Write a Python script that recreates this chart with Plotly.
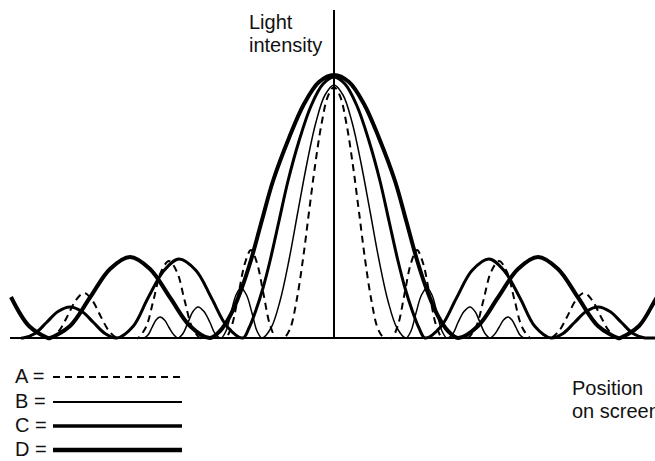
import plotly.graph_objects as go

# ---- data: right-half profiles (offset from centre, intensity), mirrored for left half ----
a_offset = [0, 6, 12.5, 19, 25, 31, 37.5, 44, 50, 52, 56,
            58, 64, 70.5, 77, 83, 89, 95.5, 102, 108, 110, 132,
            134, 142, 149.5, 157, 165, 173, 180.5, 188, 196, 198, 215,
            217, 225, 233.5, 242, 250, 258, 266.5, 275, 283, 285, 340]
a_intensity = [251, 242, 214, 172, 126, 79, 37, 9, 0, 0, 0,
               0, 13, 44, 75, 88, 75, 44, 13, 0, 0, 0,
               0, 11, 38, 66, 77, 66, 38, 11, 0, 0, 0,
               0, 7, 22, 38, 45, 38, 22, 7, 0, 0, 0]

b_offset = [0, 9, 18, 27, 36, 45, 54, 63,
            72, 77, 82, 87.5, 93, 98, 103, 108,
            113, 119, 124, 130, 136, 141, 146, 151,
            156, 160, 165, 169.5, 174, 178, 182, 186, 190, 192, 340]
b_intensity = [253, 243, 216, 175, 127, 78, 37, 10,
               0, 7, 25, 43, 50, 43, 25, 7,
               0, 4.5, 15.5, 26.5, 31, 26.5, 15.5, 4.5,
               0, 3, 10.5, 18, 21, 18, 10.5, 3, 0, 0, 0]

c_offset = [0, 11, 23, 35, 46, 55, 64, 71, 78, 85,
            91, 107, 122.5, 138, 155, 170, 186, 201,
            217, 229, 240.5, 252, 264, 276, 287.5, 299, 311, 313, 340]
c_intensity = [261, 254, 232, 197, 157, 117, 77, 50, 28, 10,
               0, 11.5, 40, 67.5, 79, 67.5, 40, 11.5,
               0, 4.5, 15.5, 26.5, 31, 26.5, 15.5, 4.5, 0, 0, 0]

d_offset = [0, 15, 30, 45, 61, 72, 83, 94, 104, 114,
            124, 144, 164, 184, 204, 224, 244, 264, 284,
            286, 305, 323, 342, 361]
d_intensity = [263, 256, 234, 200, 157, 118, 78, 45, 22, 7,
               0, 12, 40.5, 69, 81, 69, 40.5, 12, 0,
               0, 12, 41, 70, 82]

# the drawing starts at this offset on the left-hand side
left_limit = 323

legend_labels = ["A =", "B =", "C =", "D ="]
axis_title_y = ["Light", "intensity"]
axis_title_x = ["Position", "on screen"]


def mirror(off, val, limit):
    left = [(-o, v) for o, v in zip(off[1:], val[1:]) if o <= limit]
    left.reverse()
    xs = [p[0] for p in left] + list(off)
    ys = [p[1] for p in left] + list(val)
    return xs, ys


styles = {
    "A": dict(width=2, dash="7px,5px"),
    "B": dict(width=1.5, dash="solid"),
    "C": dict(width=3, dash="solid"),
    "D": dict(width=4, dash="solid"),
}

fig = go.Figure()
for name, off, val in [("D", d_offset, d_intensity), ("C", c_offset, c_intensity),
                       ("B", b_offset, b_intensity), ("A", a_offset, a_intensity)]:
    xs, ys = mirror(off, val, left_limit)
    fig.add_trace(go.Scatter(x=xs, y=ys, mode="lines", name=name,
                             line=dict(color="black", shape="spline", smoothing=1, **styles[name]),
                             hoverinfo="skip"))

shapes = [
    # horizontal axis
    dict(type="line", xref="x", yref="y", x0=-324, x1=321, y0=0, y1=0, line=dict(color="black", width=2)),
    # vertical axis
    dict(type="line", xref="x", yref="y", x0=0, x1=0, y0=0, y1=328, line=dict(color="black", width=2)),
]
legend_y = [-39, -64, -88, -112]
for (name, ly) in zip(["A", "B", "C", "D"], legend_y):
    st = styles[name]
    shapes.append(dict(type="line", xref="x", yref="y", x0=-281, x1=-152, y0=ly, y1=ly,
                       line=dict(color="black", width=st["width"] + (0.3 if name != "A" else 0), dash=st["dash"])))

font = dict(family="Liberation Sans, Arial, sans-serif", size=20, color="#111")
annotations = []
for lbl, ly in zip(legend_labels, legend_y):
    annotations.append(dict(x=-321, y=ly + 1, xref="x", yref="y", text=lbl, showarrow=False,
                            xanchor="left", yanchor="middle", font=font))
annotations.append(dict(x=-87, y=316, xref="x", yref="y", text=axis_title_y[0], showarrow=False,
                        xanchor="left", yanchor="middle", font=font))
annotations.append(dict(x=-87, y=293, xref="x", yref="y", text=axis_title_y[1], showarrow=False,
                        xanchor="left", yanchor="middle", font=font))
annotations.append(dict(x=236, y=-50, xref="x", yref="y", text=axis_title_x[0], showarrow=False,
                        xanchor="left", yanchor="middle", font=font))
annotations.append(dict(x=236, y=-73, xref="x", yref="y", text=axis_title_x[1], showarrow=False,
                        xanchor="left", yanchor="middle", font=font))

fig.update_layout(
    width=655, height=461,
    margin=dict(l=0, r=0, t=0, b=0),
    paper_bgcolor="white", plot_bgcolor="white",
    showlegend=False,
    xaxis=dict(range=[-334, 321], visible=False, fixedrange=True),
    yaxis=dict(range=[-123, 338], visible=False, fixedrange=True),
    shapes=shapes,
    annotations=annotations,
)

fig.write_html("out.html", config={"displayModeBar": False},
               post_script="document.body.style.margin='0';document.body.style.overflow='hidden';")
